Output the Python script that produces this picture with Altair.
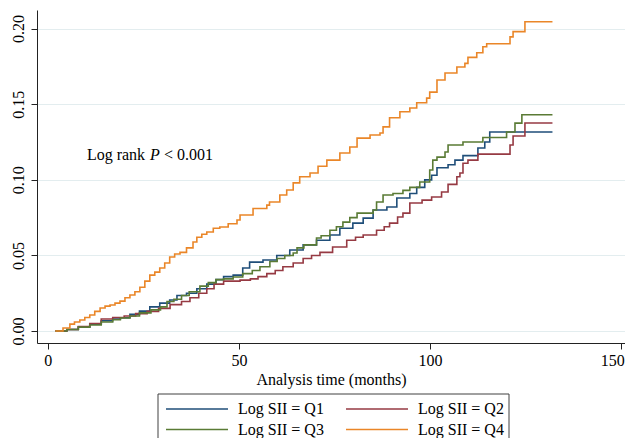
import altair as alt
import pandas as pd

series_names = ["Log SII = Q1", "Log SII = Q2", "Log SII = Q3", "Log SII = Q4"]
series_colors = ["#1f4e79", "#963a43", "#5a7b35", "#ea8628"]

# (months, cumulative incidence)
q1_pts = [(2, 0), (5, 0.001), (8, 0.0026), (11, 0.0045), (14, 0.0068), (17, 0.008),
          (19, 0.0088), (21.5, 0.011), (24, 0.0132), (26.7, 0.016), (29.3, 0.0185),
          (31.9, 0.0205), (33.8, 0.0235), (36.3, 0.025), (39, 0.028), (41.6, 0.031),
          (44, 0.034), (46, 0.036), (48.5, 0.037), (51, 0.0417), (52.8, 0.0456),
          (56.3, 0.047), (59.9, 0.050), (63.3, 0.0536), (66.8, 0.057), (70.3, 0.060),
          (73.8, 0.0635), (76.4, 0.068), (79.8, 0.0714), (82.5, 0.0747), (85.1, 0.080),
          (88.7, 0.082), (91.3, 0.088), (94.7, 0.091), (96.5, 0.095), (98.6, 0.100),
          (100.4, 0.103), (101.8, 0.108), (104.7, 0.110), (106.5, 0.113), (108.6, 0.116),
          (112.5, 0.121), (114.3, 0.125), (115.6, 0.1316), (132, 0.1316)]

q2_pts = [(2, 0), (5, 0.001), (8, 0.003), (11, 0.005), (14, 0.008), (17, 0.009),
          (20, 0.010), (23, 0.0115), (26, 0.013), (29, 0.015), (32, 0.0175), (35, 0.0195),
          (37.2, 0.022), (39.5, 0.025), (41.6, 0.028), (43.5, 0.031), (46, 0.033),
          (50.3, 0.0337), (53, 0.0345), (55, 0.036), (57.3, 0.038), (59.5, 0.040),
          (61.5, 0.0425), (64.2, 0.045), (66.8, 0.048), (69, 0.050), (71.2, 0.052),
          (74.5, 0.0556), (78.2, 0.060), (80.5, 0.062), (82.5, 0.0635), (86, 0.0667),
          (88, 0.069), (89.4, 0.0714), (91.5, 0.0754), (92.9, 0.078), (94.7, 0.0847),
          (97.9, 0.0866), (100.4, 0.0886), (103, 0.092), (104.7, 0.097), (107, 0.102),
          (107.8, 0.1045), (108.6, 0.111), (109.9, 0.113), (112.5, 0.117), (120.9, 0.123),
          (121.7, 0.129), (124.8, 0.1376), (132, 0.1376)]

q3_pts = [(2, 0), (5, 0.001), (8, 0.0026), (11, 0.004), (14, 0.006), (17, 0.0075),
          (19, 0.0086), (21.5, 0.010), (24, 0.012), (27, 0.014), (29.5, 0.016),
          (31.2, 0.0195), (33, 0.021), (35, 0.0235), (37, 0.026), (39.8, 0.0297),
          (42, 0.032), (44, 0.034), (46, 0.0345), (48.5, 0.0357), (51, 0.038),
          (53.5, 0.040), (55.5, 0.0425), (58.1, 0.046), (60, 0.048), (62, 0.050),
          (64.2, 0.0516), (65.2, 0.055), (67, 0.057), (70.3, 0.0615), (71.5, 0.063),
          (73.8, 0.0667), (75.5, 0.069), (77.2, 0.072), (79, 0.075), (80.9, 0.078),
          (85.1, 0.080), (86, 0.0853), (87.7, 0.090), (90.3, 0.091), (92.9, 0.093),
          (94.7, 0.095), (97.3, 0.0986), (99.9, 0.1065), (100.7, 0.113), (101.8, 0.115),
          (103.9, 0.1184), (104.7, 0.123), (108.6, 0.125), (113.8, 0.128), (120, 0.1316),
          (122.2, 0.1375), (124, 0.143), (132, 0.143)]

q4_pts = [(2, 0), (4, 0.002), (5.8, 0.0046), (7, 0.006), (8.4, 0.0073), (9.7, 0.009),
          (11, 0.0106), (12.3, 0.013), (13.7, 0.0152), (15, 0.0165), (16.3, 0.0172),
          (17.6, 0.0185), (18.9, 0.0198), (20.2, 0.022), (21.5, 0.0238), (22.8, 0.026),
          (24.1, 0.029), (25.4, 0.033), (26.7, 0.037), (28, 0.039), (29.3, 0.0417),
          (30.6, 0.045), (31.9, 0.049), (33.2, 0.051), (34.6, 0.052), (36.3, 0.055),
          (38, 0.0589), (39, 0.062), (40.3, 0.064), (41.6, 0.0655), (43.3, 0.068),
          (45, 0.0688), (47.2, 0.071), (49.5, 0.0734), (50.3, 0.0767), (53.7, 0.081),
          (57.3, 0.0833), (58, 0.0853), (60.7, 0.090), (62.5, 0.0933), (64.2, 0.098),
          (65.9, 0.102), (68.6, 0.1045), (70.7, 0.109), (73, 0.113), (76.4, 0.1177),
          (79, 0.1217), (80.9, 0.1276), (84.3, 0.1296), (86.9, 0.131), (87.7, 0.135),
          (89.4, 0.141), (92.1, 0.145), (94.7, 0.1475), (96.5, 0.151), (99.1, 0.154),
          (99.9, 0.158), (101.8, 0.166), (103.9, 0.1706), (107, 0.1746), (109.1, 0.177),
          (109.9, 0.181), (112.2, 0.184), (113.8, 0.188), (114.8, 0.19), (120.9, 0.1945),
          (121.7, 0.198), (124.8, 0.2045), (132, 0.2045)]

x_ticks = [0, 50, 100, 150]
y_ticks = [0, 0.05, 0.10, 0.15, 0.20]
x_title = "Analysis time (months)"
note_parts = ["Log rank", "P", "< 0.001"]
note_pos = (10.25, 0.1164)

FONT = "Liberation Serif"

rows = []
for name, pts in zip(series_names, [q1_pts, q2_pts, q3_pts, q4_pts]):
    for t, v in pts:
        rows.append({"series": name, "t": t, "v": v})
df = pd.DataFrame(rows)

PLOT_W, PLOT_H = 588, 333
xscale = alt.Scale(domain=[-2.8, 150.97], nice=False, zero=False)
yscale = alt.Scale(domain=[-0.0079, 0.2123], nice=False, zero=False)

lines = alt.Chart(df).mark_line(interpolate="step-after", strokeWidth=1.6).encode(
    x=alt.X("t:Q", scale=xscale,
            axis=alt.Axis(values=x_ticks, title=x_title, grid=False, labelFlush=False,
                          labelPadding=3, titlePadding=3,
                          labelOffset={"condition": {"test": "datum.value == 150", "value": -9},
                                       "value": 0})),
    y=alt.Y("v:Q", scale=yscale,
            axis=alt.Axis(values=y_ticks, format=".2f", title=None, grid=True,
                          labelAngle=270, labelAlign="center", labelBaseline="alphabetic",
                          labelPadding=8, labelFlush=False)),
    color=alt.Color("series:N", scale=alt.Scale(domain=series_names, range=series_colors),
                    legend=None),
)

note_df = pd.DataFrame({"t": [note_pos[0]], "v": [note_pos[1]]})
note_layers = []
for text, style, dx in zip(note_parts, ["normal", "italic", "normal"], [0, 63, 77]):
    note_layers.append(
        alt.Chart(note_df).mark_text(text=text, font=FONT, fontSize=16, fontStyle=style,
                                     align="left", baseline="middle", dx=dx, color="black")
        .encode(x=alt.X("t:Q", scale=xscale), y=alt.Y("v:Q", scale=yscale))
    )

one = pd.DataFrame({"k": [0]})
box = alt.Chart(one).mark_rect(fill="white", stroke="#404040", strokeWidth=1).encode(
    x=alt.value(121), x2=alt.value(472), y=alt.value(384), y2=alt.value(470))

legend_layers = [box]
for i, (name, color) in enumerate(zip(series_names, series_colors)):
    col, row = i % 2, i // 2
    lx = 129 + col * 180
    ly = 399 + row * 20.5
    legend_layers.append(
        alt.Chart(one).mark_rule(strokeWidth=1.6, color=color).encode(
            x=alt.value(lx), x2=alt.value(lx + 62), y=alt.value(ly)))
    legend_layers.append(
        alt.Chart(one).mark_text(text=name, font=FONT, fontSize=16, align="left",
                                 baseline="middle", color="black").encode(
            x=alt.value(lx + 72), y=alt.value(ly)))

chart = alt.layer(lines, *note_layers, *legend_layers).properties(
    width=PLOT_W, height=PLOT_H,
    autosize=alt.AutoSizeParams(type="none"),
    padding={"left": 29, "top": 2, "right": 0, "bottom": 95},
).configure_view(stroke=None).configure_axis(
    labelFont=FONT, labelFontSize=16, labelColor="black",
    titleFont=FONT, titleFontSize=16, titleFontWeight="normal", titleColor="black",
    domainColor="#222222", tickColor="#222222", tickSize=6, domainWidth=1, tickWidth=1,
    gridColor="#e3edef", gridWidth=1,
)

chart.save("out.html", embed_options={"renderer": "svg", "actions": False})
